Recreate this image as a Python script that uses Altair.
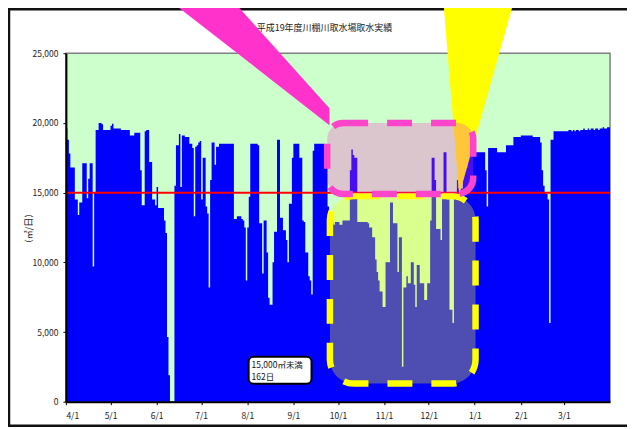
import altair as alt
import pandas as pd

# ---- daily intake (m3/day), FY Heisei 19 (2007-04-01 .. 2008-03-31) ----
apr = [19600, 18800, 17800, 16800, 16800, 16800, 14500, 14500, 13400, 14300,
       14300, 17100, 17100, 17100, 14600, 16000, 17100, 17100, 9700, 15000,
       19500, 19500, 20000, 20000, 19900, 19500, 19500, 19500, 19500, 19500]
may = [19800, 19950, 19600, 19600, 19600, 19600, 19600, 19500, 19500, 19500,
       19500, 19500, 19500, 19100, 19100, 19100, 19300, 19300, 19300, 19300,
       16600, 14100, 14100, 19400, 19500, 19500, 17200, 17200, 14500, 14500,
       14100]
jun = [15400, 13900, 13900, 13900, 13900, 13000, 12100, 4650, 1900, 0,
       0, 0, 15500, 18400, 18400, 19200, 15400, 19100, 19100, 19000,
       19000, 19000, 18500, 18500, 18200, 13300, 18300, 18400, 18600, 18700]
jul = [14500, 17500, 17500, 14000, 13500, 8200, 15900, 18600, 18600, 17000,
       18300, 18300, 18500, 18500, 18500, 18500, 18500, 18500, 18500, 18500,
       18500, 18500, 13100, 13100, 13300, 13300, 13300, 13100, 13000, 12500,
       8700]
aug = [12500, 14700, 18500, 18500, 18500, 18500, 18500, 18400, 12800, 12800,
       9200, 13000, 13000, 10700, 7450, 6950, 6950, 10000, 12200, 12200,
       18800, 18800, 13200, 13200, 12300, 12300, 11600, 10000, 14200, 14200,
       17500]
sep = [18500, 18500, 18500, 18500, 17500, 17500, 13000, 12900, 10700, 10700,
       9000, 8700, 7700, 18000, 18500, 18500, 18500, 18500, 18500, 18500,
       18500, 17300, 17300, 14000, 12800, 12800, 12800, 12700, 12900, 12900]
oct_ = [12900, 12700, 12700, 13000, 13000, 13000, 13000, 13000, 16600, 18100,
        17700, 17500, 17500, 12900, 12900, 12900, 12900, 12900, 12900, 12900,
        12800, 12500, 12500, 11800, 11800, 10200, 9300, 8700, 7900, 7900,
        6800]
nov = [6800, 10000, 10000, 10000, 14300, 14300, 12800, 12800, 12800, 9300,
       11800, 11800, 2500, 8200, 8200, 9000, 8500, 8500, 10000, 10000,
       8400, 6800, 9800, 9800, 8500, 8500, 8500, 7300, 7300, 8500]
dec = [8500, 13000, 17500, 17500, 15900, 12400, 12400, 12400, 11600, 14800,
       17900, 17900, 14500, 14500, 6600, 6600, 5650, 15000, 15000, 15900,
       15300, 15300, 15300, 16800, 16800, 16800, 17900, 17900, 17900, 17900,
       17900]
jan = [17900, 17900, 17900, 17900, 17900, 17900, 17900, 16600, 14000, 18200,
       18200, 18200, 18200, 18200, 18200, 17900, 17900, 17900, 17900, 17900,
       17900, 18400, 18400, 18400, 18400, 18400, 19000, 19000, 19000, 19000,
       19000]
feb = [19100, 19100, 19100, 19100, 19100, 19100, 19100, 19100, 19000, 19000,
       19000, 19000, 19000, 18600, 16600, 15500, 15000, 14900, 14500, 5650,
       18800, 18800, 19400, 19400, 19400, 19400, 19400, 19400, 19400]
mar = [19400, 19400, 19400, 19500, 19500, 19400, 19500, 19400, 19500, 19500,
       19400, 19500, 19500, 19600, 19500, 19500, 19600, 19500, 19600, 19600,
       19500, 19600, 19600, 19500, 19600, 19600, 19700, 19600, 19600, 19700,
       19700]

THRESHOLD = 15000
TITLE = "平成19年度川棚川取水場取水実績"
Y_TITLE = "（㎥/日）"
NOTE = ["15,000㎥未満", "162日"]

values = apr + may + jun + jul + aug + sep + oct_ + nov + dec + jan + feb + mar
FMT = "%Y-%m-%dT%H:%M:%S"
dates = pd.date_range("2007-04-01", periods=len(values), freq="D")
# step-after outline: each day's level holds until the next day; the last
# day's level is closed at the end of the fiscal year
step_dates = list(dates.strftime(FMT)) + [(dates[-1] + pd.Timedelta(days=1)).strftime(FMT)]
step_values = values + [values[-1]]
steps = pd.DataFrame({"date": step_dates, "value": step_values})

# ---- annotation shapes (in data units) ----
pink_box = pd.DataFrame({"date": ["2007-09-23T18:00:00"], "end": ["2007-12-31T00:00:00"],
                         "value": [20000], "value2": [14900]})
yellow_box = pd.DataFrame({"date": ["2007-09-25T14:00:00"], "end": ["2008-01-01T13:00:00"],
                           "value": [14750], "value2": [1300]})
pink_wedge = pd.DataFrame({"date": ["2007-06-01T02:00:00", "2007-07-16T02:00:00", "2007-09-25T07:00:00"],
                           "value": [29500, 29500, 21060], "value2": [29500, 25770, 19840]})
yellow_wedge = pd.DataFrame({"date": ["2007-12-10T07:00:00", "2007-12-21T14:00:00", "2008-01-29T09:00:00"],
                             "value": [29500, 29500, 29500], "value2": [29500, 14830, 29500]})
note_box = pd.DataFrame({"date": ["2007-08-01T22:00:00"], "end": ["2007-09-13T05:00:00"],
                         "value": [3220], "value2": [1290]})
note_text = pd.DataFrame({"date": ["2007-08-03T21:00:00"] * 2, "value": [2600, 1800], "label": NOTE})
thr = pd.DataFrame({"value": [THRESHOLD]})
one = pd.DataFrame({"t": [TITLE]})

FONT = "Noto Sans CJK JP"
xscale = alt.Scale(domain=[alt.DateTime(year=2007, month=4, date=1),
                           alt.DateTime(year=2008, month=4, date=1)], nice=False)
yscale = alt.Scale(domain=[0, 25000], nice=False, zero=True)
month_ticks = [alt.DateTime(year=2007 + (m < 4), month=m, date=1)
               for m in [4, 5, 6, 7, 8, 9, 10, 11, 12, 1, 2, 3]]
xaxis = alt.Axis(values=month_ticks, format="%-m/%-d", title=None, grid=False,
                 labelFont=FONT, labelFontSize=8.5, labelColor="#222", labelPadding=7,
                 tickSize=3, tickColor="#000", domainColor="#000", domainWidth=2, zindex=1)
yaxis = alt.Axis(values=[0, 5000, 10000, 15000, 20000, 25000], format=",.0f", grid=False,
                 labelFont=FONT, labelFontSize=8.5, labelColor="#222", labelPadding=5,
                 tickSize=3, tickColor="#000", domainColor="#000", domainWidth=2, zindex=1,
                 title=Y_TITLE, titleAngle=270, titleX=-37, titleY=175, titleAlign="center",
                 titleBaseline="middle", titleFont=FONT, titleFontSize=9, titleFontWeight="normal",
                 titleColor="#222")

X = alt.X("date:T", scale=xscale, axis=xaxis)
Y = alt.Y("value:Q", scale=yscale, axis=yaxis, stack=None)

frame = alt.Chart(one).mark_rect(fill=None, stroke="#111", strokeWidth=2.5).encode(
    x=alt.value(-57), x2=alt.value(565), y=alt.value(-44), y2=alt.value(373))

title = alt.Chart(one).mark_text(font=FONT, fontSize=9, color="#222", align="center",
                                 baseline="middle").encode(
    x=alt.value(259), y=alt.value(-25), text="t:N")

area = alt.Chart(steps).mark_area(color="#0000ff", interpolate="step-after").encode(x=X, y=Y)

rule = alt.Chart(thr).mark_rule(color="#ff0000", strokeWidth=2).encode(y=Y)

ywedge = alt.Chart(yellow_wedge).mark_area(color="#ffff00", opacity=1).encode(
    x=X, y=Y, y2="value2:Q")
ybox = alt.Chart(yellow_box).mark_rect(fill="#ffff00", fillOpacity=0.3, stroke="#ffff00",
                                       strokeWidth=6.5, strokeDash=[25, 19], cornerRadius=24).encode(
    x=X, x2="end:T", y=Y, y2="value2:Q")
pwedge = alt.Chart(pink_wedge).mark_area(color="#ff33cc", opacity=1).encode(
    x=X, y=Y, y2="value2:Q")
pbox = alt.Chart(pink_box).mark_rect(fill="#ff33cc", fillOpacity=0.28, stroke="#ff44cc",
                                     strokeWidth=6.5, strokeDash=[25, 19], cornerRadius=16).encode(
    x=X, x2="end:T", y=Y, y2="value2:Q")
nbox = alt.Chart(note_box).mark_rect(fill="white", stroke="#000", strokeWidth=2, cornerRadius=5).encode(
    x=X, x2="end:T", y=Y, y2="value2:Q")
ntext = alt.Chart(note_text).mark_text(align="left", baseline="middle", font=FONT, fontSize=8.5,
                                       color="#111").encode(x=X, y=Y, text="label:N")

chart = alt.layer(frame, title, area, rule, ywedge, ybox, pwedge, pbox, nbox, ntext).properties(
    width=545, height=349,
    autosize=alt.AutoSizeParams(type="none"),
    padding={"left": 58, "top": 45, "right": 17, "bottom": 25},
).configure_view(fill="#ccffcc", stroke="#808080", strokeWidth=1.5)

chart.save("out.html", embed_options={"renderer": "svg", "actions": False})
